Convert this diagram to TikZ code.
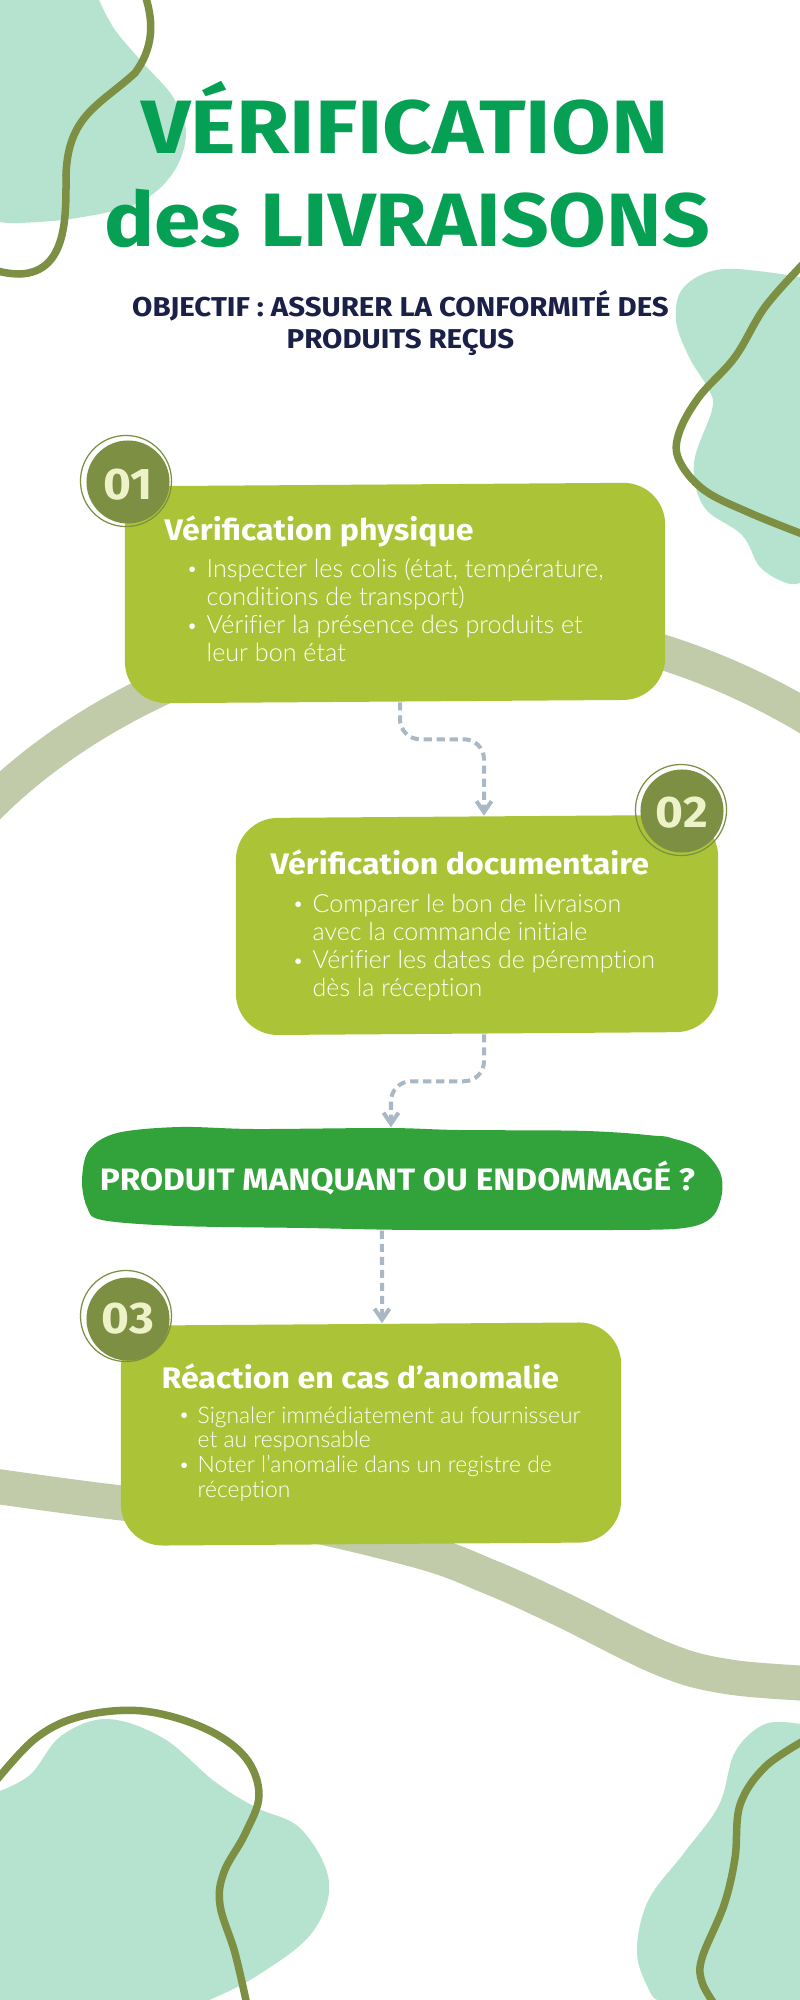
\documentclass[tikz,border=0pt]{standalone}
\usepackage{fontspec}
\setmainfont[Ligatures=NoCommon, UprightFont={* Light}]{Lato}
\newfontfamily\headfont[FakeStretch=1.08]{Fira Sans}
\newfontfamily\bannerfont[FakeStretch=1.12]{Fira Sans}
\usepackage{xcolor}
\usetikzlibrary{arrows.meta}
\definecolor{BlobMint}{HTML}{B5E3CF}
\definecolor{CurveOlive}{HTML}{7C8F42}
\definecolor{BandSage}{HTML}{C1CBA9}
\definecolor{CardLime}{HTML}{ABC437}
\definecolor{AskGreen}{HTML}{32A33B}
\definecolor{TitleGreen}{HTML}{06A055}
\definecolor{GoalNavy}{HTML}{1B2048}
\definecolor{FlowGray}{HTML}{A9B8C4}
\definecolor{NumberCream}{HTML}{EEF2C8}
\tikzset{
  blobshape/.style={fill=BlobMint, draw=none},
  curveline/.style={draw=CurveOlive, line width=0.075cm, line cap=round},
  bandline/.style={draw=BandSage, line width=0.35cm},
  cardbox/.style={fill=CardLime, rounded corners=0.42cm, minimum width=#1, minimum height=2.17cm, inner sep=0pt, yslant=0.007, transform shape},
  askbox/.style={fill=AskGreen, rounded corners=0.38cm, minimum width=5.9cm, minimum height=0.86cm, inner sep=0pt},
  badgedot/.style={circle, fill=CurveOlive, minimum size=0.83cm, inner sep=0pt, text=NumberCream, font=\headfont\bfseries\fontsize{12.6}{14}\selectfont},
  badgering/.style={circle, draw=CurveOlive, line width=0.35pt, minimum size=0.91cm, inner sep=0pt},
  flowline/.style={draw=FlowGray, line width=0.04cm, dash pattern=on 2.3pt off 1.4pt, rounded corners=0.2cm, -{Straight Barb[length=1.1mm,width=1.5mm,line width=0.04cm]}},
  cardhead/.style={anchor=base west, inner sep=0pt, text=white, font=\headfont\bfseries\fontsize{8.45}{10}\selectfont},
  cardlist/.style={anchor=base west, inner sep=0pt, text=white},
  bannerline/.style={anchor=base, inner sep=0pt, text=TitleGreen, font=\bannerfont\bfseries\fontsize{21.5}{24}\selectfont},
  goalline/.style={anchor=base, inner sep=0pt, text=GoalNavy, font=\headfont\bfseries\fontsize{7.75}{9}\selectfont},
}
\newcommand{\listdot}{\raisebox{0.3pt}{\fontsize{5.5}{6}\selectfont\textbullet}}
\newcommand{\listlines}[2]{\begin{tabular}[t]{@{}l@{}l@{}}\makebox[#1][l]{\listdot}\ignorespaces#2\end{tabular}}
\begin{document}
\begin{tikzpicture}[x=0.01cm, y=-0.01cm]
  \useasboundingbox (0,0) rectangle (800,2000);
  \fill[white] (0,0) rectangle (800,2000);
  \begin{scope}
    \clip (0,0) rectangle (800,2000);
    % Corner blobs
    \fill[blobshape] plot[smooth, tension=0.6] coordinates {(99,0) (115,30) (143,63) (173,97) (186,133) (173,173) (138,203) (77,218) (20,223) (0,222)} -- (0,0) -- cycle;
    \fill[blobshape] plot[smooth, tension=0.6] coordinates {(800,277) (724,269) (684,287) (676,320) (689,357) (709,390) (712,410) (694,463) (704,507) (742,535) (760,567) (786,583) (800,583)} -- cycle;
    \fill[blobshape] plot[smooth, tension=0.6] coordinates {(0,1791) (31,1774) (61,1736) (107,1719) (163,1738) (214,1781) (255,1807) (301,1829) (329,1882) (311,1934) (255,1977) (209,2000)} -- (0,2000) -- cycle;
    \fill[blobshape] plot[smooth, tension=0.6] coordinates {(800,1724) (765,1724) (735,1752) (719,1805) (684,1853) (648,1901) (637,1953) (650,1992) (658,2000)} -- (800,2000) -- cycle;

    % Wide bands behind the cards
    \draw[bandline] (-20,815) .. controls (130,655) and (490,520) .. (820,725);
    \draw[bandline] plot[smooth, tension=0.6] coordinates {(-20,1484) (122,1503) (260,1515) (416,1550) (490,1577) (561,1609) (663,1659) (730,1677) (820,1684)};

    % Olive curves
    \draw[curveline] (145,-5) .. controls (155,25) and (152,50) .. (135,73) .. controls (100,105) and (68,115) .. (66,175) .. controls (66,215) and (68,272) .. (20,274) .. controls (10,274) and (0,272) .. (-5,270);
    \draw[curveline] plot[smooth, tension=0.6] coordinates {(805,262) (765,307) (735,357) (699,397) (679,433) (679,460) (704,490) (750,513) (805,535)};
    \draw[curveline] plot[smooth, tension=0.6] coordinates {(-5,1782) (36,1738) (82,1716) (143,1711) (204,1728) (245,1757) (259,1795) (245,1834) (224,1872) (220,1905) (235,1953) (247,2005)};
    \draw[curveline] plot[smooth, tension=0.6] coordinates {(805,1740) (765,1767) (740,1805) (735,1858) (724,1905) (702,1958) (702,1982) (715,2005)};
  \end{scope}

  % Title
  \node[bannerline, xscale=1.022, transform shape] (titletop) at (405,153) {VÉRIFICATION};
  \node[bannerline, xscale=0.987, transform shape] (titlelow) at (407,246) {des LIVRAISONS};
  \node[goalline] (goaltop) at (400.5,317) {OBJECTIF : ASSURER LA CONFORMITÉ DES};
  \node[goalline] (goallow) at (400.5,348) {PRODUITS REÇUS};

  % Cards
  \node[cardbox=5.4cm] (cardone) at (395,593) {};
  \node[cardbox=4.82cm] (cardtwo) at (477,925) {};
  \node[cardbox=5cm, minimum height=2.2cm] (cardthree) at (371,1434) {};
  % Wavy outline of the question box
  \fill[AskGreen] plot[smooth cycle, tension=0.55] coordinates {(82,1180) (89,1150) (117,1133) (179,1127) (255,1129) (388,1128) (459,1130) (587,1131) (663,1137) (699,1148) (719,1170) (722,1193) (712,1217) (684,1228) (612,1230) (418,1230) (306,1228) (179,1226) (102,1220) (87,1207)};
  \node[askbox] (askbox) at (402,1179) {};

  % Card texts
  \node[cardhead] (headone) at (164,540) {Vérification physique};
  \node[cardlist, font=\fontsize{7.15}{7.97}\selectfont] (listone) at (186,577) {\listlines{0.2cm}{
    & Inspecter les colis (état, température,\\
    & conditions de transport)\\
    \listdot & Vérifier la présence des produits et\\
    & leur bon état}};
  \node[cardhead] (headtwo) at (270,874) {Vérification documentaire};
  \node[cardlist, font=\fontsize{7.1}{7.97}\selectfont] (listtwo) at (292,912) {\listlines{0.2cm}{
    & Comparer le bon de livraison\\
    & avec la commande initiale\\
    \listdot & Vérifier les dates de péremption\\
    & dès la réception}};
  \node[cardhead] (headthree) at (161,1388) {Réaction en cas d’anomalie};
  \node[cardlist, font=\fontsize{6.5}{7.1}\selectfont] (listthree) at (178,1423) {\listlines{0.19cm}{
    & Signaler immédiatement au fournisseur\\
    & et au responsable\\
    \listdot & Noter l’anomalie dans un registre de\\
    & réception}};
  \node[anchor=base, inner sep=0pt, text=white, font=\headfont\bfseries\fontsize{8.8}{10}\selectfont] (asktext) at (397.5,1190) {PRODUIT MANQUANT OU ENDOMMAGÉ ?};

  % Number badges
  \node[badgedot] (badgeone) at (128,482) {\rule{0pt}{9.9pt}01};
  \node[badgering] (ringone) at (126,481) {};
  \node[badgedot] (badgetwo) at (682,811) {\rule{0pt}{9.5pt}02};
  \node[badgering] (ringtwo) at (681,810) {};
  \node[badgedot] (badgethree) at (128,1319) {03};
  \node[badgering] (ringthree) at (126,1316) {};

  % Dashed links
  \draw[flowline] ([xshift=0.05cm]cardone.south) -- ++(0,37) -| ([xshift=0.07cm]cardtwo.north);
  \draw[flowline] ([xshift=0.07cm]cardtwo.south) -- ++(0,47) -| ([xshift=-0.11cm, yshift=0.08cm]askbox.north);
  \draw[flowline] ([xshift=-0.2cm, yshift=-0.08cm]askbox.south) -- ([xshift=0.11cm]cardthree.north);
\end{tikzpicture}
\end{document}
